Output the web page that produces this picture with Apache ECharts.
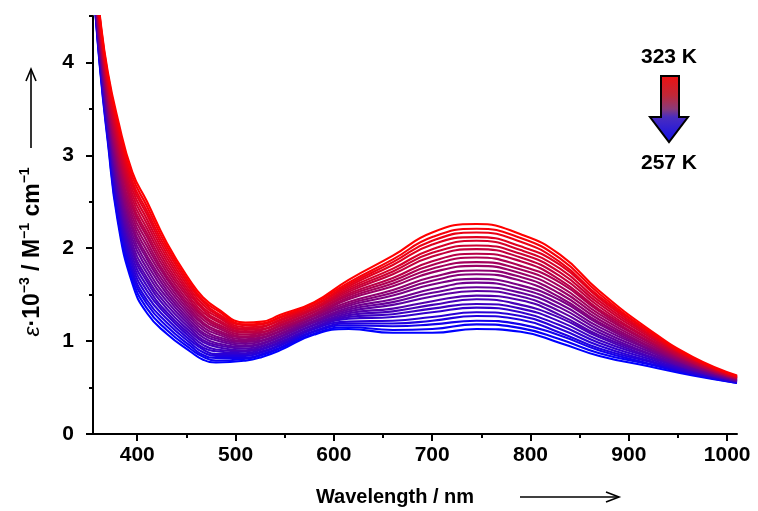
<!DOCTYPE html>
<html><head><meta charset="utf-8">
<script src="https://cdn.jsdelivr.net/npm/echarts@6/dist/echarts.min.js"></script>
<style>html,body{margin:0;padding:0;background:#fff}#c{width:758px;height:511px}</style>
</head><body><div id="c"></div>
<script>
// Wavelength sample points (nm)
const wavelengths = [355,362,370,380,395,410,430,455,467,480,510,527,545,580,615,660,700,745,790,830,870,920,965,1010];
// Temperatures (K), coldest (blue) to warmest (red)
const temperatures = [257,260,262,265,268,270,273,275,278,281,283,286,289,291,294,297,299,302,305,307,310,312,315,318,320,323];
const xTickValues = [400,500,600,700,800,900,1000];
const xMinorTickValues = [450,550,650,750,850,950];
const yTickValues = [0,1,2,3,4];
const yMinorTickValues = [0.5,1.5,2.5,3.5,4.5];

// epsilon * 10^-3 / M^-1 cm^-1 at each wavelength, one array per temperature
const eps257 = [4.90,3.95,3.15,2.30,1.62,1.30,1.08,0.88,0.80,0.77,0.79,0.83,0.90,1.07,1.13,1.09,1.09,1.13,1.10,0.98,0.84,0.73,0.63,0.55];
const eps260 = [4.91,3.97,3.18,2.34,1.67,1.35,1.12,0.91,0.83,0.79,0.81,0.85,0.92,1.08,1.15,1.12,1.13,1.18,1.14,1.02,0.87,0.75,0.64,0.55];
const eps262 = [4.92,3.99,3.21,2.39,1.72,1.40,1.16,0.94,0.85,0.82,0.82,0.86,0.93,1.10,1.17,1.16,1.18,1.22,1.18,1.06,0.90,0.76,0.65,0.56];
const eps265 = [4.94,4.02,3.24,2.43,1.76,1.44,1.20,0.97,0.88,0.84,0.84,0.88,0.95,1.11,1.19,1.19,1.22,1.27,1.23,1.09,0.92,0.78,0.65,0.56];
const eps268 = [4.95,4.04,3.27,2.48,1.81,1.49,1.24,1.00,0.91,0.86,0.86,0.89,0.96,1.13,1.21,1.22,1.26,1.31,1.27,1.13,0.95,0.79,0.66,0.56];
const eps270 = [4.96,4.06,3.30,2.52,1.86,1.54,1.28,1.03,0.93,0.89,0.87,0.91,0.98,1.14,1.24,1.26,1.31,1.36,1.31,1.17,0.98,0.81,0.67,0.57];
const eps273 = [4.97,4.08,3.33,2.56,1.91,1.59,1.31,1.06,0.96,0.91,0.89,0.92,0.99,1.15,1.26,1.29,1.35,1.40,1.35,1.21,1.01,0.83,0.68,0.57];
const eps275 = [4.98,4.10,3.36,2.61,1.96,1.64,1.35,1.09,0.99,0.94,0.90,0.94,1.01,1.17,1.28,1.32,1.39,1.45,1.39,1.25,1.04,0.84,0.69,0.57];
const eps278 = [5.00,4.13,3.39,2.65,2.00,1.68,1.39,1.12,1.01,0.96,0.92,0.95,1.02,1.18,1.30,1.35,1.43,1.49,1.44,1.28,1.06,0.86,0.69,0.57];
const eps281 = [5.01,4.15,3.42,2.70,2.05,1.73,1.43,1.15,1.04,0.98,0.94,0.97,1.04,1.20,1.32,1.39,1.48,1.54,1.48,1.32,1.09,0.87,0.70,0.58];
const eps283 = [5.02,4.17,3.45,2.74,2.10,1.78,1.47,1.18,1.07,1.01,0.95,0.98,1.05,1.21,1.34,1.42,1.52,1.58,1.52,1.36,1.12,0.89,0.71,0.58];
const eps286 = [5.03,4.19,3.48,2.78,2.15,1.83,1.51,1.21,1.09,1.03,0.97,1.00,1.07,1.22,1.36,1.45,1.56,1.63,1.56,1.40,1.15,0.91,0.72,0.58];
const eps289 = [5.04,4.21,3.51,2.83,2.20,1.88,1.55,1.24,1.12,1.05,0.99,1.01,1.08,1.24,1.38,1.49,1.61,1.67,1.60,1.44,1.18,0.92,0.73,0.59];
const eps291 = [5.06,4.24,3.54,2.87,2.24,1.92,1.59,1.27,1.15,1.08,1.00,1.03,1.10,1.25,1.40,1.52,1.65,1.72,1.65,1.47,1.20,0.94,0.73,0.59];
const eps294 = [5.07,4.26,3.57,2.92,2.29,1.97,1.63,1.30,1.18,1.10,1.02,1.04,1.11,1.27,1.42,1.55,1.69,1.76,1.69,1.51,1.23,0.95,0.74,0.59];
const eps297 = [5.08,4.28,3.60,2.96,2.34,2.02,1.67,1.33,1.20,1.12,1.04,1.06,1.13,1.28,1.45,1.59,1.74,1.81,1.73,1.55,1.26,0.97,0.75,0.60];
const eps299 = [5.09,4.30,3.63,3.00,2.39,2.07,1.70,1.36,1.23,1.15,1.05,1.07,1.14,1.29,1.47,1.62,1.78,1.85,1.77,1.59,1.29,0.99,0.76,0.60];
const eps302 = [5.10,4.32,3.66,3.05,2.44,2.12,1.74,1.39,1.26,1.17,1.07,1.09,1.16,1.31,1.49,1.65,1.82,1.90,1.81,1.63,1.32,1.00,0.77,0.60];
const eps305 = [5.12,4.35,3.69,3.09,2.48,2.16,1.78,1.42,1.28,1.19,1.09,1.10,1.17,1.32,1.51,1.68,1.86,1.94,1.86,1.66,1.34,1.02,0.77,0.60];
const eps307 = [5.13,4.37,3.72,3.14,2.53,2.21,1.82,1.45,1.31,1.22,1.10,1.12,1.19,1.34,1.53,1.72,1.91,1.99,1.90,1.70,1.37,1.03,0.78,0.61];
const eps310 = [5.14,4.39,3.75,3.18,2.58,2.26,1.86,1.48,1.34,1.24,1.12,1.13,1.20,1.35,1.55,1.75,1.95,2.03,1.94,1.74,1.40,1.05,0.79,0.61];
const eps312 = [5.15,4.41,3.78,3.22,2.63,2.31,1.90,1.51,1.36,1.27,1.13,1.15,1.22,1.36,1.57,1.78,1.99,2.08,1.98,1.78,1.43,1.07,0.80,0.61];
const eps315 = [5.16,4.43,3.81,3.27,2.68,2.36,1.94,1.54,1.39,1.29,1.15,1.16,1.23,1.38,1.59,1.82,2.04,2.12,2.02,1.82,1.46,1.08,0.81,0.62];
const eps318 = [5.18,4.46,3.84,3.31,2.72,2.40,1.98,1.57,1.42,1.31,1.17,1.18,1.25,1.39,1.61,1.85,2.08,2.17,2.07,1.85,1.48,1.10,0.81,0.62];
const eps320 = [5.19,4.48,3.87,3.36,2.77,2.45,2.02,1.60,1.44,1.34,1.18,1.19,1.26,1.41,1.63,1.88,2.12,2.21,2.11,1.89,1.51,1.11,0.82,0.62];
const eps323 = [5.20,4.50,3.90,3.40,2.82,2.50,2.06,1.63,1.47,1.36,1.20,1.21,1.28,1.42,1.66,1.92,2.17,2.26,2.15,1.93,1.54,1.13,0.83,0.63];

const spectra = [eps257,eps260,eps262,eps265,eps268,eps270,eps273,eps275,eps278,eps281,eps283,eps286,eps289,eps291,eps294,eps297,eps299,eps302,eps305,eps307,eps310,eps312,eps315,eps318,eps320,eps323];

const FONT = "'Liberation Sans', Arial, sans-serif";
const chart = echarts.init(document.getElementById('c'), null, {renderer: 'canvas'});

function curveColor(k, n) {
  const f = k / (n - 1);
  const r = Math.round(255 * f), b = Math.round(255 * (1 - f));
  return 'rgb(' + r + ',0,' + b + ')';
}

const series = spectra.map((arr, k) => ({
  name: temperatures[k] + ' K',
  type: 'line',
  xAxisIndex: 0, yAxisIndex: 0,
  data: wavelengths.map((w, i) => [w, arr[i]]),
  showSymbol: false,
  smooth: 0.5,
  clip: true,
  lineStyle: {width: 2.1, color: curveColor(k, spectra.length)},
  itemStyle: {color: curveColor(k, spectra.length)},
  z: 2 + k,
  silent: true
}));

const labelStyle = {color: '#000', fontWeight: 'bold', fontSize: 21, fontFamily: FONT, formatter: v => String(v)};

chart.setOption({
  animation: false,
  backgroundColor: '#fff',
  grid: {left: 93, right: 21, top: 16, bottom: 77, containLabel: false},
  xAxis: [{
    type: 'value', min: 355, max: 1010, position: 'bottom',
    axisLine: {show: true, onZero: false, lineStyle: {color: '#000', width: 2}},
    axisTick: {show: true, customValues: xTickValues, length: 7, lineStyle: {color: '#000', width: 2}},
    axisLabel: Object.assign({customValues: xTickValues, margin: 11}, labelStyle),
    splitLine: {show: false}
  }, {
    type: 'value', min: 355, max: 1010, position: 'bottom',
    axisLine: {show: false},
    axisTick: {show: true, customValues: xMinorTickValues, length: 4, lineStyle: {color: '#000', width: 2}},
    axisLabel: {show: false},
    splitLine: {show: false}
  }],
  yAxis: [{
    type: 'value', min: 0, max: 4.5, position: 'left',
    axisLine: {show: true, onZero: false, lineStyle: {color: '#000', width: 2}},
    axisTick: {show: true, customValues: yTickValues, length: 7, lineStyle: {color: '#000', width: 2}},
    axisLabel: Object.assign({customValues: yTickValues, margin: 19}, labelStyle),
    splitLine: {show: false}
  }, {
    type: 'value', min: 0, max: 4.5, position: 'left',
    axisLine: {show: false},
    axisTick: {show: true, customValues: yMinorTickValues, length: 4, lineStyle: {color: '#000', width: 2}},
    axisLabel: {show: false},
    splitLine: {show: false}
  }],
  series: series,
  graphic: [
    // y axis title
    {
      type: 'text', x: 31, y: 252, rotation: Math.PI / 2,
      style: {
        text: '{i|ε}{n|·10}{s|−3}{n| / M}{s|−1}{n| cm}{s|−1}',
        align: 'center', verticalAlign: 'middle', fill: '#000',
        rich: {
          i: {fontSize: 23, fontStyle: 'italic', fontWeight: 'normal', fontFamily: FONT, lineHeight: 26, verticalAlign: 'bottom', fill: '#000'},
          n: {fontSize: 23, fontWeight: 'bold', fontFamily: FONT, lineHeight: 26, verticalAlign: 'bottom', fill: '#000'},
          s: {fontSize: 14, fontWeight: 'bold', fontFamily: FONT, lineHeight: 14, verticalAlign: 'top', fill: '#000'}
        }
      }
    },
    // y axis arrow
    {type: 'line', shape: {x1: 31, y1: 148, x2: 31, y2: 69}, style: {stroke: '#000', lineWidth: 1.6}},
    {type: 'polyline', shape: {points: [[26, 81], [31, 69], [36, 81]]}, style: {stroke: '#000', lineWidth: 1.6, fill: null}},
    // x axis title
    {
      type: 'text', x: 395, y: 497,
      style: {text: 'Wavelength / nm', align: 'center', verticalAlign: 'middle', fill: '#000', fontSize: 20, fontWeight: 'bold', fontFamily: FONT}
    },
    // x axis arrow
    {type: 'line', shape: {x1: 520, y1: 497, x2: 619, y2: 497}, style: {stroke: '#000', lineWidth: 1.6}},
    {type: 'polyline', shape: {points: [[606, 492], [619, 497], [606, 502]]}, style: {stroke: '#000', lineWidth: 1.6, fill: null}},
    // temperature annotation
    {
      type: 'text', x: 669, y: 57,
      style: {text: '323 K', align: 'center', verticalAlign: 'middle', fill: '#000', fontSize: 21, fontWeight: 'bold', fontFamily: FONT}
    },
    {
      type: 'text', x: 669, y: 163,
      style: {text: '257 K', align: 'center', verticalAlign: 'middle', fill: '#000', fontSize: 21, fontWeight: 'bold', fontFamily: FONT}
    },
    {
      type: 'polygon',
      shape: {points: [[661, 76], [679, 76], [679, 117], [688, 117], [669, 142], [650, 117], [661, 117]]},
      style: {
        fill: new echarts.graphic.LinearGradient(0, 0, 0, 1, [
          {offset: 0, color: '#f01010'},
          {offset: 0.3, color: '#c02838'},
          {offset: 0.5, color: '#8a3a7a'},
          {offset: 0.62, color: '#4a2cc0'},
          {offset: 1, color: '#1010e8'}
        ]),
        stroke: '#000', lineWidth: 2
      }
    }
  ]
});
</script>
</body></html>
